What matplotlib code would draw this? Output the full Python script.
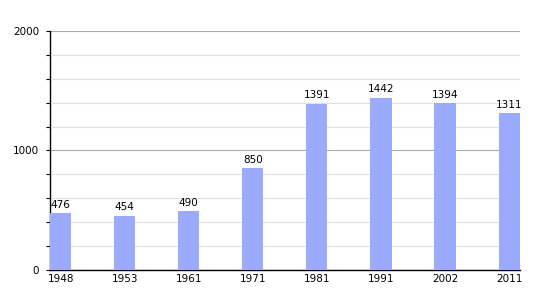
import numpy as np
import matplotlib.pyplot as plt

# Datos de población
years = ['1948', '1953', '1961', '1971', '1981', '1991', '2002', '2011']
pop = [476, 454, 490, 850, 1391, 1442, 1394, 1311]

fig = plt.figure(figsize=(5.5, 3), dpi=100)
ax = fig.add_axes([0.0909, 0.1, 0.854, 0.797])

x = np.arange(len(years))
w = 0.33
ax.bar(x, pop, width=w, color='#99aaff', zorder=3)

for xi, v in zip(x, pop):
    ax.text(xi, v + 30, str(v), ha='center', va='bottom', fontsize=7.5)

ax.set_xlim(-w / 2, len(years) - 1 + w / 2)
ax.set_ylim(0, 2000)
ax.set_xticks(x)
ax.set_xticklabels(years, fontsize=7.5)
ax.set_yticks([0, 1000, 2000])
ax.set_yticklabels(['0', '1000', '2000'], fontsize=7.5)
ax.set_yticks(np.arange(0, 2001, 200), minor=True)

ax.grid(axis='y', which='major', color='#aaaaaa', linewidth=0.8, zorder=0)
ax.grid(axis='y', which='minor', color='#e0e0e0', linewidth=0.8, zorder=0)

ax.tick_params(axis='x', length=0, pad=3)
ax.tick_params(axis='y', which='major', length=3, width=0.8, pad=5)
ax.tick_params(axis='y', which='minor', length=3, width=0.8)

for s in ['top', 'right']:
    ax.spines[s].set_visible(False)
ax.spines['left'].set_linewidth(1)
ax.spines['bottom'].set_linewidth(1)

fig.savefig('out.png', dpi=100)
